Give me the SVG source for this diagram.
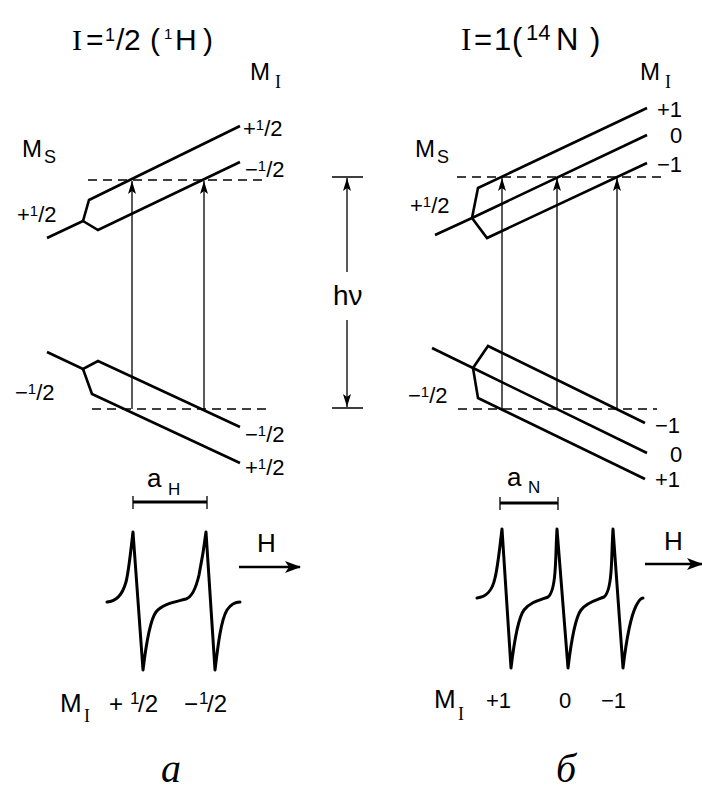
<svg xmlns="http://www.w3.org/2000/svg" width="702" height="794" viewBox="0 0 702 794">
<style>
.lvl{fill:none;stroke:#000;stroke-width:2.6;stroke-linejoin:miter}
.dash{fill:none;stroke:#000;stroke-width:1.6;stroke-dasharray:9 6}
.tr{fill:none;stroke:#000;stroke-width:1.3}
.spec{fill:none;stroke:#000;stroke-width:3;stroke-linejoin:round;stroke-linecap:round}
.bar{fill:none;stroke:#000;stroke-width:3}
.harr{fill:none;stroke:#000;stroke-width:2.6}
text{font-family:"Liberation Sans",Arial,sans-serif;fill:#000}
.lab{font-size:22px}
.sup{font-size:15px}
.big{font-size:24px}
.sub{font-size:18px}
.ser{font-family:"Liberation Serif","Times New Roman",serif}
.fig{font-family:"Liberation Serif","Times New Roman",serif;font-style:italic;font-size:40px}
</style>
<defs>
<marker id="ah" markerUnits="userSpaceOnUse" markerWidth="14" markerHeight="8" refX="13" refY="4" orient="auto">
<path d="M0,0 L13,4 L0,8 L3,4 z" fill="#000"/>
</marker>
<marker id="ahb" markerUnits="userSpaceOnUse" markerWidth="16" markerHeight="12" refX="15" refY="6" orient="auto">
<path d="M0,0 L16,6 L0,12 L4,6 z" fill="#000"/>
</marker>
</defs>

<!-- Titles -->
<g id="title-left">
<text font-size="30"><tspan class="ser" x="72" y="50">I</tspan><tspan x="86" y="50">=</tspan><tspan x="105" y="41" font-size="18">1</tspan><tspan x="116" y="50">/</tspan><tspan x="124" y="50">2</tspan><tspan x="150" y="50">(</tspan><tspan x="164" y="39" font-size="15">1</tspan><tspan x="175" y="50">H</tspan><tspan x="203" y="50">)</tspan></text>
</g>
<g id="title-right">
<text font-size="31"><tspan class="ser" x="461" y="50">I</tspan><tspan x="474" y="50">=</tspan><tspan x="494" y="50">1</tspan><tspan x="512" y="50">(</tspan><tspan x="526" y="40" font-size="22">14</tspan><tspan x="556" y="50">N</tspan><tspan x="590" y="50">)</tspan></text>
</g>

<!-- Left energy diagram -->
<g id="left-levels">
<path class="lvl" d="M47,238 L83,221 L89,200 L240,126"/>
<path class="lvl" d="M83,221 L98,230 L240,162"/>
<path class="lvl" d="M47,352 L83,369 L98,361 L240,427"/>
<path class="lvl" d="M83,369 L92,394 L240,463"/>
<path class="dash" d="M88,180 H267"/>
<path class="dash" d="M92,409 H267"/>
</g>
<g id="left-labels">
<text class="big"><tspan x="250" y="80">M</tspan><tspan class="ser sub" x="275" y="88">I</tspan></text>
<text class="big"><tspan x="22" y="157">M</tspan><tspan class="sub" x="44" y="163">S</tspan></text>
<text class="lab" x="243" y="136">+<tspan class="sup" dy="-6">1</tspan><tspan dy="6">/2</tspan></text>
<text class="lab" x="245" y="177">−<tspan class="sup" dy="-6">1</tspan><tspan dy="6">/2</tspan></text>
<text class="lab" x="17" y="222">+<tspan class="sup" dy="-6">1</tspan><tspan dy="6">/2</tspan></text>
<text class="lab" x="15" y="400">−<tspan class="sup" dy="-6">1</tspan><tspan dy="6">/2</tspan></text>
<text class="lab" x="245" y="442">−<tspan class="sup" dy="-6">1</tspan><tspan dy="6">/2</tspan></text>
<text class="lab" x="245" y="475">+<tspan class="sup" dy="-6">1</tspan><tspan dy="6">/2</tspan></text>
</g>

<!-- Right energy diagram -->
<g id="right-levels">
<path class="lvl" d="M435,235 L472,218 L647,135"/>
<path class="lvl" d="M472,218 L478,188 L647,108"/>
<path class="lvl" d="M472,218 L487,238 L647,163"/>
<path class="lvl" d="M432,348 L473,368 L647,453"/>
<path class="lvl" d="M473,368 L488,346 L645,423"/>
<path class="lvl" d="M473,368 L478,398 L645,479"/>
<path class="dash" d="M457,177 H662"/>
<path class="dash" d="M458,409 H657"/>
</g>
<g id="right-labels">
<text class="big"><tspan x="640" y="80">M</tspan><tspan class="ser sub" x="665" y="88">I</tspan></text>
<text class="big"><tspan x="415" y="157">M</tspan><tspan class="sub" x="437" y="163">S</tspan></text>
<text class="lab" x="657" y="117">+1</text>
<text class="lab" x="670" y="143">0</text>
<text class="lab" x="657" y="172">−1</text>
<text class="lab" x="410" y="213">+<tspan class="sup" dy="-6">1</tspan><tspan dy="6">/2</tspan></text>
<text class="lab" x="408" y="403">−<tspan class="sup" dy="-6">1</tspan><tspan dy="6">/2</tspan></text>
<text class="lab" x="655" y="433">−1</text>
<text class="lab" x="670" y="462">0</text>
<text class="lab" x="655" y="487">+1</text>
</g>

<!-- Connectors: transitions and hv -->
<g id="connectors">
<line class="tr" x1="132" y1="409" x2="132" y2="181" marker-end="url(#ah)"/>
<line class="tr" x1="204" y1="409" x2="204" y2="181" marker-end="url(#ah)"/>
<line class="tr" x1="502" y1="409" x2="502" y2="178" marker-end="url(#ah)"/>
<line class="tr" x1="557" y1="409" x2="557" y2="178" marker-end="url(#ah)"/>
<line class="tr" x1="617" y1="409" x2="617" y2="178" marker-end="url(#ah)"/>
<line class="tr" x1="347" y1="272" x2="347" y2="178" marker-end="url(#ah)"/>
<line class="tr" x1="347" y1="320" x2="347" y2="407" marker-end="url(#ah)"/>
<path class="tr" d="M332,177 H363 M332,408 H363"/>
</g>
<g id="hv-label">
<text x="333" y="305" font-size="28">hν</text>
</g>

<!-- Splitting bars -->
<g id="aH">
<path class="bar" d="M133,502 H207"/>
<path class="tr" stroke-width="2" d="M133,496 V509 M207,496 V509"/>
<text font-size="26"><tspan x="147" y="487">a</tspan><tspan x="168" y="495" font-size="17">H</tspan></text>
</g>
<g id="aN">
<path class="bar" d="M500,503 H558"/>
<path class="tr" stroke-width="2" d="M500,497 V510 M558,497 V510"/>
<text font-size="26"><tspan x="507" y="486">a</tspan><tspan x="528" y="493" font-size="17">N</tspan></text>
</g>

<!-- Spectra -->
<g id="spectrum-left">
<path class="spec" d="M107,602 C116,601 122,596 126,582 C129,570 131,548 133,532 L143,670 C146,645 150,620 156,612 C162,604 175,602 186,599 C192,597 196,588 199,575 C201,565 204,548 206,532 L215,670 C218,645 221,620 227,610 C231,604 236,602 240,602"/>
<line class="harr" x1="239" y1="567" x2="300" y2="567" marker-end="url(#ahb)"/>
<text x="257" y="552" font-size="26">H</text>
<text font-size="26"><tspan x="60" y="712">M</tspan><tspan class="ser" x="84" y="722" font-size="18">I</tspan></text>
<text font-size="24"><tspan x="109" y="712">+</tspan><tspan x="130" y="704" font-size="17">1</tspan><tspan x="138" y="712">/2</tspan></text>
<text font-size="24"><tspan x="184" y="712">−</tspan><tspan x="199" y="704" font-size="17">1</tspan><tspan x="207" y="712">/2</tspan></text>
</g>
<g id="spectrum-right">
<path class="spec" d="M477,598 C486,597 492,592 495,578 C498,566 500,545 502,529 L511,668 C514,643 518,618 524,610 C530,602 540,600 548,597 C552,594 554,585 555,572 C556,560 556,545 557,529 L568,668 C571,643 575,618 581,610 C587,602 597,600 604,597 C608,594 610,585 611,572 C612,560 612,545 613,529 L623,668 C626,643 630,618 636,606 C639,600 641,598 643,598"/>
<line class="harr" x1="645" y1="564" x2="702" y2="564" marker-end="url(#ahb)"/>
<text x="664" y="550" font-size="26">H</text>
<text font-size="26"><tspan x="434" y="708">M</tspan><tspan class="ser" x="458" y="720" font-size="18">I</tspan></text>
<text font-size="22"><tspan x="486" y="708">+1</tspan><tspan x="559" y="708">0</tspan><tspan x="601" y="708">−1</tspan></text>
</g>

<!-- Figure labels -->
<g id="fig-labels">
<text class="fig" x="161" y="782">а</text>
<text class="fig" x="556" y="782">б</text>
</g>
</svg>
